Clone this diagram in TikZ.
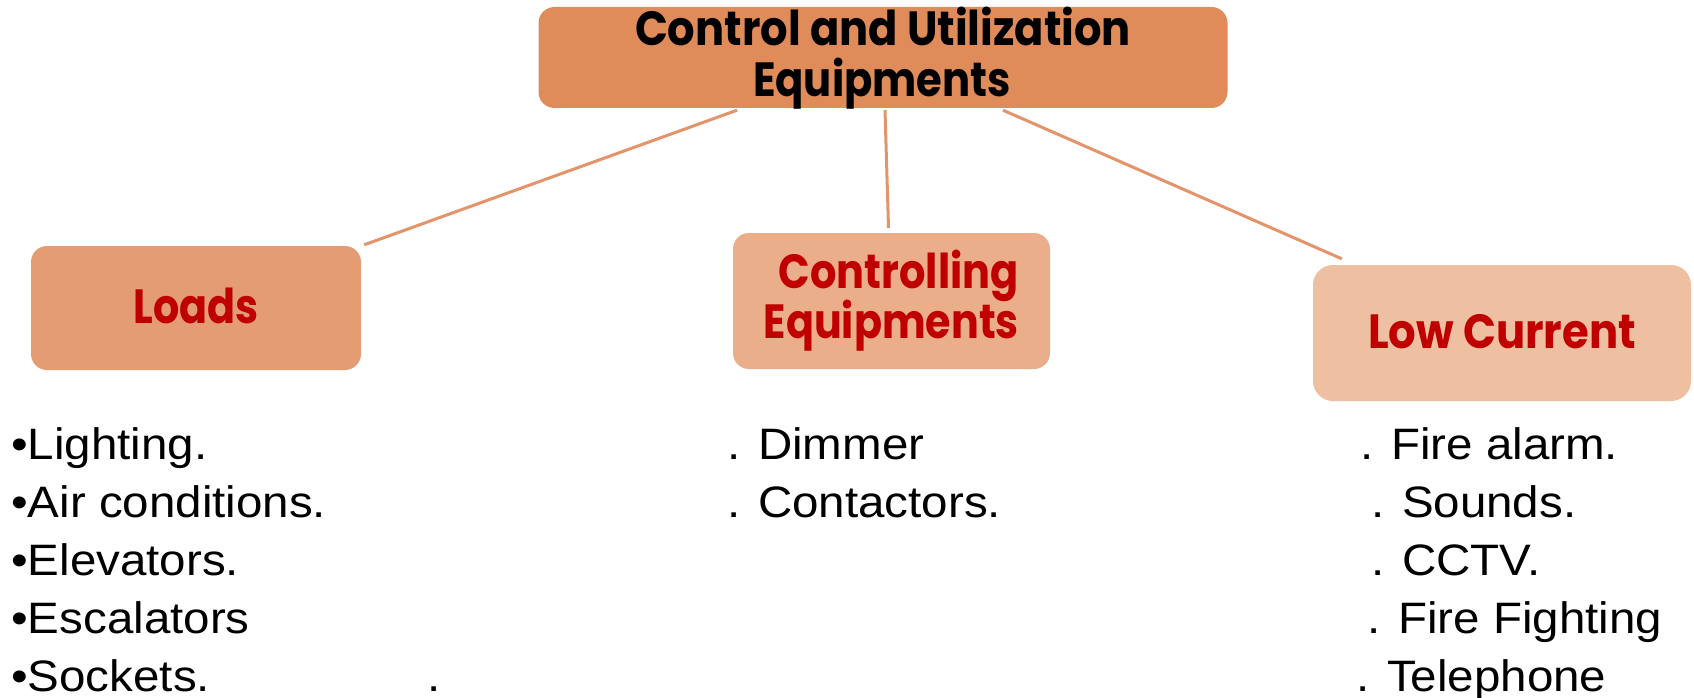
\documentclass[tikz,border=0pt]{standalone}
\usepackage{fontspec}
\usepackage{graphicx}
\setmainfont{Liberation Sans}
\newfontfamily\headfont{Poppins}
\newfontfamily\listfont{Liberation Sans}[FakeStretch=1.08]
\usetikzlibrary{calc}
\definecolor{topc}{HTML}{E08C5A}
\definecolor{loadc}{HTML}{E49C72}
\definecolor{ctrlc}{HTML}{EAAE8A}
\definecolor{lowc}{HTML}{EEBFA1}
\definecolor{linec}{HTML}{E4946A}
\definecolor{redtext}{HTML}{C00000}
\newcommand{\fitw}[2]{\resizebox{#1}{\height}{#2}}
\begin{document}
\begin{tikzpicture}[x=1pt,y=-1pt,
  boxshape/.style={rectangle, rounded corners=16pt, inner sep=0pt, draw=none},
  titletext/.style={inner sep=0pt, text=black, font=\headfont\bfseries\fontsize{48}{50}\selectfont},
  labeltext/.style={inner sep=0pt, text=redtext, font=\headfont\bfseries\fontsize{48}{50}\selectfont},
  itemtext/.style={inner sep=0pt, anchor=base west, text=black, font=\listfont\fontsize{44}{50}\selectfont},
  conn/.style={draw=linec, line width=3pt}]
\useasboundingbox (0,0) rectangle (1694,698);
\fill[white] (0,0) rectangle (1694,698);
% boxes
\node[boxshape, fill=topc, minimum width=689pt, minimum height=101pt] (top) at (883,57.5) {};
\node[boxshape, fill=loadc, minimum width=330pt, minimum height=124pt] (loads) at (196,308) {};
\node[boxshape, fill=ctrlc, minimum width=317pt, minimum height=136pt] (ctrl) at (891.5,301) {};
\node[boxshape, fill=lowc, rounded corners=20pt, minimum width=378pt, minimum height=136pt] (low) at (1502,333) {};
% box texts
\node[titletext, anchor=base] (t1) at (883,46) {\fitw{496pt}{Control and Utilization}};
\node[titletext, anchor=base] (t2) at (882,97) {\fitw{258pt}{Equipments}};
\node[labeltext, anchor=base] (l1) at (196,323) {\fitw{125pt}{Loads}};
\node[labeltext, anchor=base east] (c1) at (1019,288) {\fitw{240pt}{Controlling}};
\node[labeltext, anchor=base east] (c2) at (1019,338) {\fitw{255pt}{Equipments}};
\node[labeltext, anchor=base] (w1) at (1502,348) {\fitw{268pt}{Low Current}};
% connectors
\draw[conn] ($(top.south)+(-146,2)$) -- ($(loads.north east)+(3,-1)$);
\draw[conn] ($(top.south)+(2,2)$) -- ($(ctrl.north)+(-3,-5)$);
\draw[conn] ($(top.south)+(120,2)$) -- ($(low.north west)+(29,-6)$);
% left list
\node[itemtext] (a1) at (11,459) {•Lighting.};
\node[itemtext] (a2) at (11,517) {•Air conditions.};
\node[itemtext] (a3) at (11,575) {•Elevators.};
\node[itemtext] (a4) at (11,633) {•Escalators};
\node[itemtext] (a5) at (11,691) {•Sockets.};
\node[itemtext] (a6) at (427,691) {.};
% middle list
\node[itemtext] (b1) at (727,459) {. Dimmer};
\node[itemtext] (b2) at (727,517) {. Contactors.};
% right list
\node[itemtext] (r1) at (1360,459) {. Fire alarm.};
\node[itemtext] (r2) at (1371,517) {. Sounds.};
\node[itemtext] (r3) at (1371,575) {. CCTV.};
\node[itemtext] (r4) at (1367,633) {. Fire Fighting};
\node[itemtext] (r5) at (1356,691) {. Telephone};
\end{tikzpicture}
\end{document}
